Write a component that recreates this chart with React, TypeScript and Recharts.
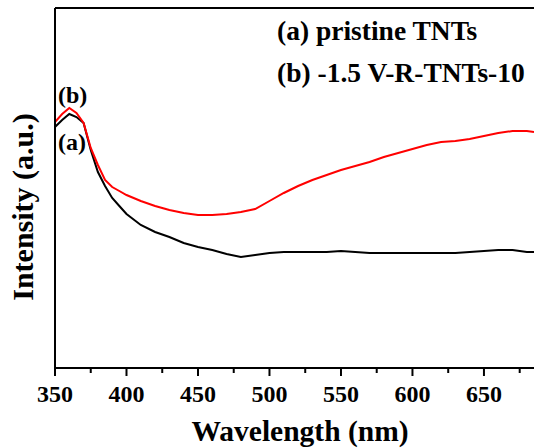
import { LineChart, Line, XAxis, YAxis, ReferenceLine, Customized } from 'recharts';

const wavelengths = [
  350, 355, 360, 365, 370, 375, 380, 385, 390, 395, 400, 410, 420, 430, 440, 450, 460, 470, 480, 490,
  500, 510, 520, 530, 540, 550, 560, 570, 580, 590, 600, 610, 620, 630, 640, 650, 660, 670, 680, 685,
];

// (a) pristine TNTs
const pristine = [
  241, 248, 254, 251, 245, 218, 196, 182, 170, 162, 154, 143, 136, 131, 125, 121, 118, 114, 111, 113,
  115, 116, 116, 116, 116, 117, 116, 115, 115, 115, 115, 115, 115, 115, 116, 117, 118, 118, 116, 116,
];

// (b) -1.5 V-R-TNTs-10
const treated = [
  246, 254, 260, 255, 245, 220, 203, 188, 181, 177, 173, 167, 162, 158, 155, 153, 153, 154, 156, 159,
  167, 175, 182, 188, 193, 198, 202, 206, 211, 215, 219, 223, 226, 227, 229, 232, 235, 237, 237, 236,
];

const xTicks = [350, 375, 400, 425, 450, 475, 500, 525, 550, 575, 600, 625, 650, 675];

const data = wavelengths.map((wl, i) => ({ wl, a: pristine[i], b: treated[i] }));

const FONT = '"Liberation Serif", "Times New Roman", serif';

const XTick = (props: any) => {
  const { x, y, payload } = props;
  const major = payload.value % 50 === 0;
  return (
    <g>
      <line x1={x} x2={x} y1={y} y2={y + (major ? 8 : 5)} stroke="#000" strokeWidth={2} />
      {major && (
        <text x={x} y={y + 34} textAnchor="middle" fontFamily={FONT} fontWeight="bold" fontSize={24} fill="#000">
          {payload.value}
        </text>
      )}
    </g>
  );
};

const Texts = () => (
  <g fontFamily={FONT} fontWeight="bold" fill="#000">
    <text x={300} y={441} textAnchor="middle" fontSize={29.5}>Wavelength (nm)</text>
    <text x={33} y={207} textAnchor="middle" fontSize={30} transform="rotate(-90 33 207)">Intensity (a.u.)</text>
    <text x={277} y={40} fontSize={27.5}>(a) pristine TNTs</text>
    <text x={277} y={82} fontSize={27.5}>(b) -1.5 V-R-TNTs-10</text>
    <text x={58} y={103} fontSize={24}>(b)</text>
    <text x={58} y={150} fontSize={24}>(a)</text>
  </g>
);

export default function App() {
  return (
    <div style={{ position: 'absolute', left: 0, top: 0, width: 534, height: 448, background: '#fff' }}>
      <LineChart width={534} height={448} data={data} margin={{ top: 8, right: 0, left: 0, bottom: 0 }}>
        <XAxis
          dataKey="wl"
          type="number"
          domain={[350, 685]}
          ticks={xTicks}
          interval={0}
          allowDataOverflow
          height={80}
          tickSize={0}
          tickMargin={0}
          tickLine={false}
          tick={<XTick />}
          axisLine={{ stroke: '#000', strokeWidth: 2 }}
        />
        <YAxis
          type="number"
          domain={[0, 360]}
          width={55}
          tick={false}
          tickLine={false}
          axisLine={{ stroke: '#000', strokeWidth: 2 }}
        />
        <ReferenceLine y={360} stroke="#000" strokeWidth={2} ifOverflow="extendDomain" />
        <Line type="linear" dataKey="a" stroke="#000" strokeWidth={2} dot={false} isAnimationActive={false} />
        <Line type="linear" dataKey="b" stroke="#ff0000" strokeWidth={2} dot={false} isAnimationActive={false} />
        <Customized component={Texts} />
      </LineChart>
    </div>
  );
}
